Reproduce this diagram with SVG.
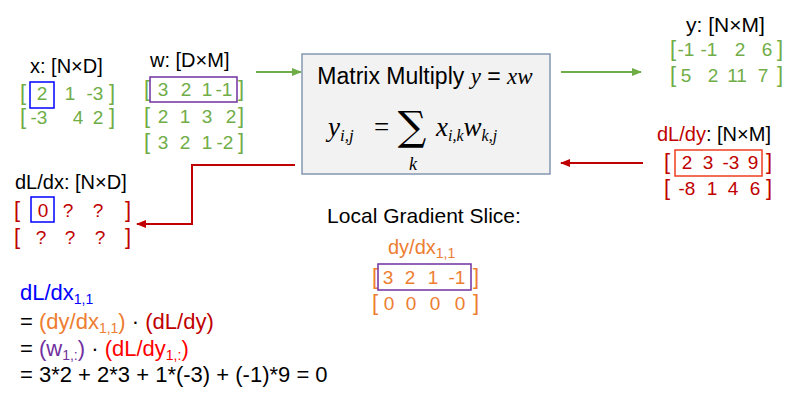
<svg xmlns="http://www.w3.org/2000/svg" width="800" height="401" viewBox="0 0 800 401">
<defs>
<style>
text{font-family:"Liberation Sans",Arial,sans-serif;}
.lbl{font-size:20px;fill:#000;}
.m{font-size:19px;text-anchor:middle;}
.f{font-size:22px;fill:#000;}
.k{font-size:22px;}
.g{fill:#70ad47;}
.r{fill:#c00000;}
.o{fill:#ed7d31;}
.p{fill:#7030a0;}
.b{fill:#0000ff;}
.rr{fill:#ff0000;}
.sub{font-size:14px;}
.math{font-family:"Liberation Serif","Times New Roman",serif;font-style:italic;}
.conn{fill:none;stroke-width:2;}
</style>
<marker id="ag" viewBox="0 0 10 10" refX="9" refY="5" markerWidth="5" markerHeight="5" orient="auto"><path d="M0,1 L10,5 L0,9 z" fill="#70ad47"/></marker>
<marker id="ar" viewBox="0 0 10 10" refX="9" refY="5" markerWidth="5" markerHeight="5" orient="auto"><path d="M0,1 L10,5 L0,9 z" fill="#c00000"/></marker>
</defs>
<rect width="800" height="401" fill="#fff"/>

<g id="connectors">
<line class="conn" x1="256" y1="72" x2="301" y2="72" stroke="#70ad47" marker-end="url(#ag)"/>
<line class="conn" x1="561" y1="72" x2="641" y2="72" stroke="#70ad47" marker-end="url(#ag)"/>
<line class="conn" x1="643" y1="163" x2="561" y2="163" stroke="#c00000" marker-end="url(#ar)"/>
<polyline class="conn" points="295,165 192,165 192,224 137,224" stroke="#c00000" marker-end="url(#ar)"/>
</g>

<g id="x">
<text class="lbl" x="30" y="73">x: [N×D]</text>
<text class="m g" y="100"><tspan class="k" x="23">[</tspan><tspan x="42">2</tspan><tspan x="70">1</tspan><tspan x="95">-3</tspan><tspan class="k" x="112">]</tspan></text>
<text class="m g" y="124"><tspan class="k" x="23">[</tspan><tspan x="39">-3</tspan><tspan x="78">4</tspan><tspan x="98">2</tspan><tspan class="k" x="112">]</tspan></text>
<rect x="30" y="82" width="24" height="26" fill="none" stroke="#0000ff" stroke-width="1.5"/>
</g>

<g id="w">
<text class="lbl" x="150" y="67">w: [D×M]</text>
<text class="m g" y="96"><tspan class="k" x="147">[</tspan><tspan x="163">3</tspan><tspan x="186">2</tspan><tspan x="207">1</tspan><tspan x="224">-1</tspan><tspan class="k" x="241">]</tspan></text>
<text class="m g" y="123"><tspan class="k" x="147">[</tspan><tspan x="163">2</tspan><tspan x="185">1</tspan><tspan x="207">3</tspan><tspan x="231">2</tspan><tspan class="k" x="241">]</tspan></text>
<text class="m g" y="149"><tspan class="k" x="147">[</tspan><tspan x="163">3</tspan><tspan x="185">2</tspan><tspan x="207">1</tspan><tspan x="225">-2</tspan><tspan class="k" x="241">]</tspan></text>
<rect x="150" y="77" width="87" height="25" fill="none" stroke="#7030a0" stroke-width="1.5"/>
</g>

<g id="matmul">
<rect x="302" y="54" width="248" height="120" fill="#f2f2f2" stroke="#8497b0" stroke-width="1.5"/>
<text x="425" y="84" text-anchor="middle" style="font-size:23px">Matrix Multiply <tspan class="math">y</tspan> = <tspan class="math">xw</tspan></text>
<text class="math" x="328" y="136" style="font-size:27px">y<tspan dy="5" style="font-size:17px">i,j</tspan></text>
<text x="374" y="136" style="font-size:27px;font-family:'Liberation Serif',serif">=</text>
<text x="412" y="140" text-anchor="middle" style="font-size:40px;font-family:'DejaVu Serif',serif">∑</text>
<text class="math" x="413" y="170" text-anchor="middle" style="font-size:18px">k</text>
<text class="math" x="436" y="136" style="font-size:27px">x<tspan dy="5" style="font-size:16px">i,k</tspan><tspan dy="-5">w</tspan><tspan dy="5" style="font-size:16px">k,j</tspan></text>
</g>

<g id="y">
<text class="lbl" x="686" y="32" style="font-size:21px">y: [N×M]</text>
<text class="m g" y="56"><tspan class="k" x="673">[</tspan><tspan x="686">-1</tspan><tspan x="709">-1</tspan><tspan x="740">2</tspan><tspan x="767">6</tspan><tspan class="k" x="780">]</tspan></text>
<text class="m g" y="82"><tspan class="k" x="673">[</tspan><tspan x="686">5</tspan><tspan x="713">2</tspan><tspan x="737">11</tspan><tspan x="763">7</tspan><tspan class="k" x="780">]</tspan></text>
</g>

<g id="dLdy">
<text class="lbl" x="657" y="141"><tspan class="r">dL/dy</tspan>: [N×M]</text>
<text class="m r" y="169"><tspan class="k" x="667">[</tspan><tspan x="687">2</tspan><tspan x="708">3</tspan><tspan x="731">-3</tspan><tspan x="753">9</tspan><tspan class="k" x="769">]</tspan></text>
<text class="m r" y="195"><tspan class="k" x="667">[</tspan><tspan x="687">-8</tspan><tspan x="712">1</tspan><tspan x="733">4</tspan><tspan x="755">6</tspan><tspan class="k" x="769">]</tspan></text>
<rect x="675" y="150" width="87" height="26" fill="none" stroke="#f03c1e" stroke-width="1.5"/>
</g>

<g id="dLdx">
<text class="lbl" x="15" y="189">dL/dx: [N×D]</text>
<text class="m r" y="217"><tspan class="k" x="17">[</tspan><tspan x="43">0</tspan><tspan x="68">?</tspan><tspan x="98">?</tspan><tspan class="k" x="128">]</tspan></text>
<text class="m r" y="244"><tspan class="k" x="17">[</tspan><tspan x="41">?</tspan><tspan x="70">?</tspan><tspan x="100">?</tspan><tspan class="k" x="128">]</tspan></text>
<rect x="31" y="197" width="23" height="25" fill="none" stroke="#0000ff" stroke-width="1.5"/>
</g>

<g id="slice">
<text class="lbl" x="424" y="223" text-anchor="middle" style="font-size:21px">Local Gradient Slice:</text>
<text class="o" x="388" y="254" style="font-size:20px">dy/dx<tspan class="sub" dy="4">1,1</tspan></text>
<text class="m o" y="284"><tspan class="k" x="375">[</tspan><tspan x="388">3</tspan><tspan x="410">2</tspan><tspan x="433">1</tspan><tspan x="457">-1</tspan><tspan class="k" x="476">]</tspan></text>
<text class="m o" y="310"><tspan class="k" x="375">[</tspan><tspan x="389">0</tspan><tspan x="411">0</tspan><tspan x="435">0</tspan><tspan x="460">0</tspan><tspan class="k" x="476">]</tspan></text>
<rect x="378" y="264" width="93" height="26" fill="none" stroke="#7030a0" stroke-width="1.5"/>
</g>

<g id="derivation">
<text class="f" x="20" y="300"><tspan class="b">dL/dx<tspan class="sub" dy="4">1,1</tspan></tspan></text>
<text class="f" x="20" y="329">= <tspan class="o">(dy/dx<tspan class="sub" dy="4">1,1</tspan><tspan dy="-4">)</tspan></tspan> · <tspan class="r">(dL/dy)</tspan></text>
<text class="f" x="20" y="356">= <tspan class="p">(w<tspan class="sub" dy="4">1,:</tspan><tspan dy="-4">)</tspan></tspan> · <tspan class="rr">(dL/dy<tspan class="sub" dy="4">1,:</tspan><tspan dy="-4">)</tspan></tspan></text>
<text class="f" x="20" y="382">= 3*2 + 2*3 + 1*(-3) + (-1)*9 = 0</text>
</g>
</svg>
